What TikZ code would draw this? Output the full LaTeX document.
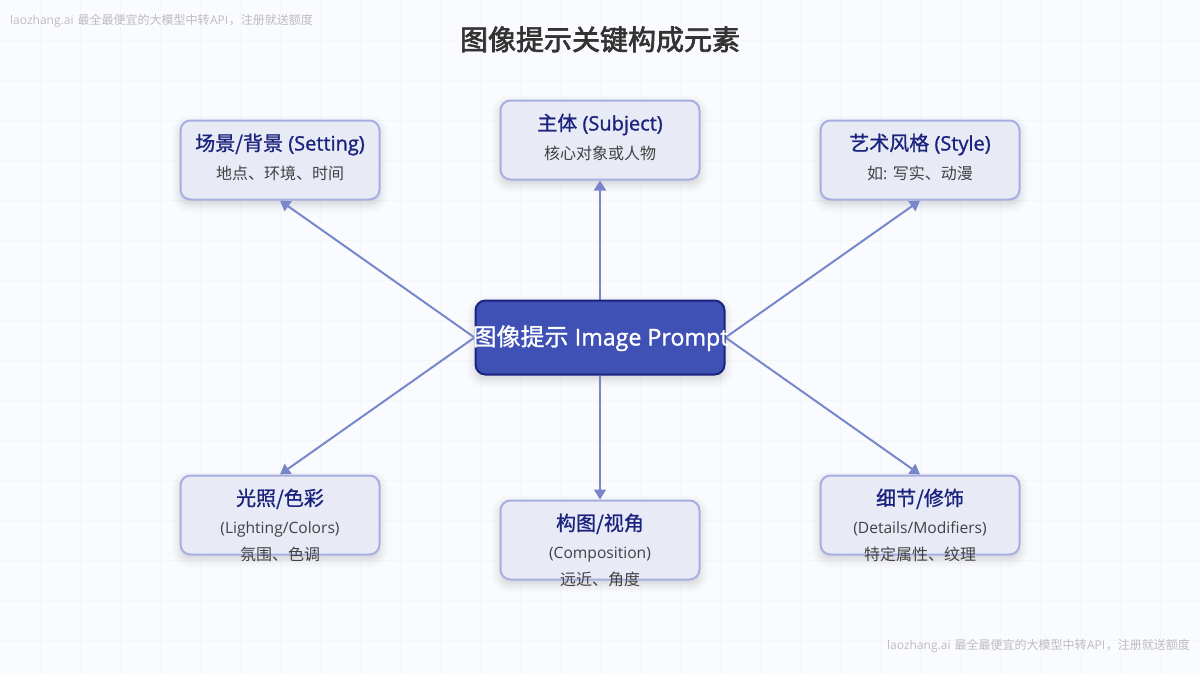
\documentclass[tikz,border=0pt]{standalone}
\usepackage{fontspec}
\setmainfont{Open Sans}
\newfontfamily\cjk{Noto Sans CJK SC}
\newfontfamily\cjkm[FakeBold=1.0]{Noto Sans CJK SC}
\newfontfamily\cjkh[FakeBold=2.4]{Noto Sans CJK SC}
\newfontfamily\latm[FakeBold=1.2]{Open Sans}
\usetikzlibrary{arrows.meta,backgrounds}
\definecolor{bgc}{HTML}{FAFBFE}
\definecolor{gridc}{HTML}{F4F6FA}
\definecolor{boxfill}{HTML}{E8EAF6}
\definecolor{boxline}{HTML}{A6AFE0}
\definecolor{navy}{HTML}{1A237E}
\definecolor{indigo}{HTML}{3F51B5}
\definecolor{arrowc}{HTML}{7986CB}
\definecolor{ink}{HTML}{333333}
\definecolor{sub}{HTML}{424242}
\definecolor{mark}{HTML}{BDBDBD}
\newcommand{\fs}[1]{\fontsize{#1}{#1}\selectfont}
\newcommand{\softshadow}[1]{%
  \foreach \e/\o in {9/0.004,8/0.005,7/0.006,6/0.007,5/0.008,4/0.009,3/0.01,2/0.011,1/0.012,0/0.013,-1/0.014,-2/0.015}{
    \pgfmathsetmacro{\rr}{max(10+\e,6)}
    \fill[black,opacity=\o,rounded corners=\rr pt]
      ([shift={(-\e,-\e+4)}]#1.north west) rectangle ([shift={(\e,\e+4)}]#1.south east);
  }}
\tikzset{
  x=1pt,y=-1pt,
  cardbox/.style={draw=boxline,fill=boxfill,line width=2pt,rounded corners=10pt,minimum width=199pt,minimum height=79pt,inner sep=0pt,anchor=center},
  hubbox/.style={draw=navy,fill=indigo,line width=2pt,rounded corners=10pt,minimum width=249pt,minimum height=74pt,inner sep=0pt,anchor=center},
  cardtitle/.style={anchor=base,inner sep=0pt,text=navy,font=\fs{20}},
  cardsub/.style={anchor=base,inner sep=0pt,text=sub,font=\fs{16}},
  link/.style={draw=arrowc,line width=2pt,-{Triangle[length=10pt,width=12pt]},shorten >=0pt},
  stamp/.style={inner sep=0pt,text=mark,font=\fs{12}},
}
\newcommand{\ct}[1]{{\cjkm #1}}
\newcommand{\lt}[1]{{\latm #1}}
\newcommand{\subl}[1]{{\fs{15.6}#1}}
\newcommand{\stamptext}{laozhang.ai\hspace{1pt} {\cjk 最全最便宜的大模型中转}\hspace{0.5pt}API\hspace{0.5pt}{\cjk ，注册就送额度}}
\begin{document}
\begin{tikzpicture}
\useasboundingbox (0,0) rectangle (1200,675);
\node[cardbox] (setting) at (280,160) {};
\node[cardbox] (subject) at (600,140) {};
\node[cardbox] (style) at (920,160) {};
\node[cardbox] (light) at (280,515) {};
\node[cardbox] (comp) at (600,540) {};
\node[cardbox] (detail) at (920,515) {};
\node[hubbox] (hub) at (600,337.5) {};
\begin{scope}[on background layer]
  \fill[bgc] (0,0) rectangle (1200,675);
  \foreach \i in {40,80,...,1160} \draw[gridc,line width=1pt] (\i,0) -- (\i,675);
  \foreach \i in {40,80,...,640} \draw[gridc,line width=1pt] (0,\i) -- (1200,\i);
  \softshadow{setting}\softshadow{subject}\softshadow{style}
  \softshadow{light}\softshadow{comp}\softshadow{detail}\softshadow{hub}
  \draw[link] (hub.north) -- (subject.south);
  \draw[link] (hub.south) -- (comp.north);
  \draw[link] (hub.west) -- (setting.south);
  \draw[link] (hub.east) -- (style.south);
  \draw[link] (hub.west) -- (light.north);
  \draw[link] (hub.east) -- (detail.north);
\end{scope}
\node[stamp,anchor=base west] (wm1) at (10,24.5) {\stamptext};
\node[stamp,anchor=base east] (wm2) at (1190,649.5) {\stamptext};
\node[anchor=base,inner sep=0pt,text=ink,font=\fs{28}\cjkh] (title) at (600,50) {图像提示关键构成元素};
\node[anchor=base,inner sep=0pt,text=white,font=\fs{24}] (hubt) at (600.5,345.5) {\ct{图像提示} {\fs{23.2}\lt{Image Prompt}}};
\node[cardtitle] (t1) at (280,150.5) {\ct{场景/背景} \lt{(Setting)}};
\node[cardsub] (s1) at (280,179.5) {\cjk 地点、环境、时间};
\node[cardtitle] (t2) at (600,130.5) {\ct{主体} \lt{(Subject)}};
\node[cardsub] (s2) at (600,159.5) {\cjk 核心对象或人物};
\node[cardtitle] (t3) at (920,150.5) {\ct{艺术风格} \lt{(Style)}};
\node[cardsub] (s3) at (920,179.5) {{\cjk 如}: {\cjk 写实、动漫}};
\node[cardtitle] (t4) at (280,505.5) {\ct{光照/色彩}};
\node[cardsub] (s4) at (280,533) {\subl{(Lighting/Colors)}};
\node[cardsub] (u4) at (280,560.5) {\cjk 氛围、色调};
\node[cardtitle] (t5) at (600,530.5) {\ct{构图/视角}};
\node[cardsub] (s5) at (600,558) {\subl{(Composition)}};
\node[cardsub] (u5) at (600,585.5) {\cjk 远近、角度};
\node[cardtitle] (t6) at (920,505.5) {\ct{细节/修饰}};
\node[cardsub] (s6) at (920,533) {\subl{(Details/Modifiers)}};
\node[cardsub] (u6) at (920,560.5) {\cjk 特定属性、纹理};
\end{tikzpicture}
\end{document}
